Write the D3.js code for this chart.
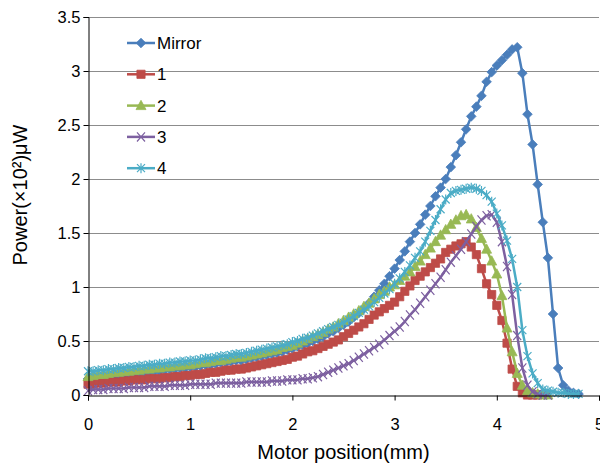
<!DOCTYPE html>
<html>
<head>
<meta charset="utf-8">
<script src="https://cdn.jsdelivr.net/npm/d3@7"></script>
<style>
body { margin: 0; background: #fff; }
svg { display: block; font-family: "Liberation Sans", Arial, sans-serif; }
</style>
</head>
<body>
<svg id="chart" width="600" height="468"></svg>
<script>
// motor position step between readings (mm)
const step = 0.05;

const mirror = [
    0.15,0.15,0.16,0.17,0.17,0.18,0.18,0.19,0.19,0.20,
    0.20,0.21,0.21,0.22,0.22,0.23,0.24,0.24,0.25,0.25,
    0.26,0.26,0.27,0.28,0.28,0.29,0.30,0.30,0.31,0.32,
    0.32,0.33,0.34,0.35,0.36,0.37,0.38,0.39,0.40,0.42,
    0.43,0.45,0.46,0.48,0.50,0.52,0.54,0.57,0.59,0.62,
    0.65,0.68,0.72,0.76,0.80,0.85,0.91,0.97,1.03,1.10,
    1.17,1.25,1.33,1.42,1.50,1.58,1.67,1.75,1.84,1.92,
    2.00,2.11,2.22,2.34,2.46,2.58,2.67,2.77,2.90,2.99,
    3.05,3.10,3.15,3.20,3.22,2.98,2.60,2.32,1.95,1.60,
    1.27,0.75,0.25,0.09,0.04,0.02,0.01
];
const s1 = [
    0.10,0.10,0.11,0.11,0.12,0.12,0.12,0.13,0.13,0.14,
    0.14,0.14,0.15,0.15,0.15,0.16,0.16,0.17,0.17,0.18,
    0.18,0.19,0.19,0.20,0.21,0.21,0.22,0.23,0.23,0.24,
    0.24,0.25,0.26,0.27,0.28,0.29,0.30,0.31,0.32,0.33,
    0.35,0.36,0.38,0.40,0.41,0.43,0.45,0.47,0.49,0.51,
    0.54,0.57,0.60,0.63,0.66,0.70,0.74,0.77,0.80,0.83,
    0.86,0.91,0.96,1.01,1.06,1.10,1.14,1.18,1.22,1.26,
    1.32,1.35,1.38,1.40,1.42,1.37,1.30,1.17,1.03,0.93,
    0.83,0.69,0.48,0.24,0.08,0.02,0.00,0.00,0.00
];
const s2 = [
    0.17,0.18,0.19,0.19,0.20,0.21,0.21,0.22,0.22,0.23,
    0.23,0.24,0.24,0.25,0.25,0.26,0.26,0.27,0.27,0.28,
    0.28,0.29,0.30,0.30,0.31,0.32,0.32,0.33,0.34,0.35,
    0.35,0.36,0.37,0.38,0.39,0.40,0.41,0.42,0.44,0.45,
    0.46,0.48,0.50,0.52,0.54,0.56,0.58,0.61,0.63,0.66,
    0.69,0.72,0.75,0.78,0.82,0.85,0.89,0.93,0.96,1.00,
    1.02,1.06,1.10,1.14,1.19,1.24,1.30,1.36,1.42,1.48,
    1.53,1.58,1.62,1.66,1.67,1.63,1.55,1.45,1.35,1.24,
    1.12,0.92,0.62,0.40,0.20,0.09,0.04,0.02,0.01,0.00,
    0.00
];
const s3 = [
    0.04,0.05,0.05,0.05,0.06,0.06,0.06,0.06,0.07,0.07,
    0.07,0.07,0.08,0.08,0.08,0.08,0.09,0.09,0.09,0.09,
    0.10,0.10,0.10,0.10,0.10,0.11,0.11,0.11,0.11,0.11,
    0.11,0.12,0.12,0.12,0.12,0.12,0.13,0.13,0.13,0.14,
    0.14,0.14,0.15,0.15,0.16,0.17,0.19,0.21,0.23,0.25,
    0.27,0.29,0.32,0.35,0.38,0.41,0.44,0.47,0.51,0.55,
    0.59,0.63,0.68,0.74,0.79,0.85,0.91,0.97,1.03,1.09,
    1.16,1.23,1.29,1.35,1.42,1.49,1.56,1.62,1.66,1.67,
    1.60,1.42,1.19,0.93,0.55,0.25,0.09,0.03,0.01,0.00,
    0.00
];
const s4 = [
    0.22,0.22,0.23,0.23,0.24,0.24,0.25,0.25,0.26,0.26,
    0.27,0.27,0.28,0.28,0.29,0.29,0.30,0.30,0.31,0.31,
    0.32,0.32,0.33,0.34,0.34,0.35,0.36,0.36,0.37,0.38,
    0.38,0.39,0.40,0.41,0.42,0.43,0.44,0.45,0.46,0.47,
    0.49,0.50,0.52,0.53,0.55,0.57,0.59,0.61,0.63,0.65,
    0.67,0.70,0.73,0.76,0.79,0.82,0.86,0.90,0.94,0.98,
    1.03,1.08,1.14,1.20,1.27,1.33,1.42,1.52,1.62,1.72,
    1.81,1.87,1.89,1.90,1.91,1.92,1.91,1.89,1.85,1.79,
    1.68,1.57,1.43,1.26,1.00,0.60,0.36,0.20,0.11,0.05,
    0.04,0.03,0.02,0.02,0.01,0.01,0.01
];

const seriesNames = ["Mirror", "1", "2", "3", "4"];
const seriesValues = [mirror, s1, s2, s3, s4];
const colors = ["#4a7ebb", "#be4b48", "#98b954", "#7d60a0", "#4bacc6"];
const markerTypes = ["diamond", "square", "triangle", "cross", "star"];
const xTicks = [0, 1, 2, 3, 4, 5];
const yTicks = [0, 0.5, 1, 1.5, 2, 2.5, 3, 3.5];

const svg = d3.select("#chart");
const plotL = 88, plotR = 599, plotT = 17, plotB = 395;

const x = d3.scaleLinear().domain([0, 5]).range([plotL, plotR]);
const y = d3.scaleLinear().domain([0, 3.5]).range([plotB, plotT]);

// gridlines
svg.append("g")
    .selectAll("line")
    .data(yTicks.filter(d => d > 0))
    .enter()
    .append("line")
    .attr("x1", plotL).attr("x2", plotR)
    .attr("y1", d => Math.round(y(d)) + 0.5)
    .attr("y2", d => Math.round(y(d)) + 0.5)
    .attr("stroke", "#8c8c8c")
    .attr("stroke-width", 1);

function markerPath(type) {
    switch (type) {
        case "diamond":
            return "M0,-4.8L4.8,0L0,4.8L-4.8,0Z";
        case "square":
            return "M-4.1,-4.1H4.1V4.1H-4.1Z";
        case "triangle":
            return "M0,-5.3L5,4H-5Z";
        case "cross":
            return "M-4,-4.6L4,4.6M-4,4.6L4,-4.6";
        default:
            return "M-4,-4L4,4M-4,4L4,-4M0,-5V5";
    }
}
const filled = t => t == "diamond" || t == "square" || t == "triangle";

const line = d3.line()
    .x((d, i) => x(i * step))
    .y(d => y(d));

seriesValues.forEach((vals, k) => {
    const g = svg.append("g");
    const col = colors[k];
    const t = markerTypes[k];
    g.append("path")
        .datum(vals)
        .attr("d", line)
        .attr("fill", "none")
        .attr("stroke", col)
        .attr("stroke-width", 2.5)
        .attr("stroke-linejoin", "round");
    g.selectAll(".m")
        .data(vals)
        .enter()
        .append("path")
        .classed("m", true)
        .attr("transform", (d, i) => `translate(${x(i * step)},${y(d)})`)
        .attr("d", markerPath(t))
        .attr("fill", filled(t) ? col : "none")
        .attr("stroke", col)
        .attr("stroke-width", filled(t) ? 0.8 : 1.2);
});

// axes
const yAxis = svg.append("g")
    .attr("transform", `translate(${plotL + 0.5},0)`)
    .call(d3.axisLeft(y).tickValues(yTicks).tickSize(5).tickPadding(3).tickFormat(d3.format("")));
const xAxis = svg.append("g")
    .attr("transform", `translate(0,${plotB + 0.5})`)
    .call(d3.axisBottom(x).tickValues(xTicks).tickSize(5).tickPadding(18).tickFormat(d3.format("")));

[yAxis, xAxis].forEach(a => {
    a.attr("font-family", null).attr("font-size", null);
    a.selectAll("path, line").attr("stroke", "#000");
    a.selectAll("text").attr("fill", "#000").style("font-size", "16.5px");
});

// axis titles
svg.append("text")
    .attr("transform", "translate(27,195) rotate(-90)")
    .attr("text-anchor", "middle")
    .style("font-size", "20px")
    .text("Power(×10²)μW");
svg.append("text")
    .attr("x", (plotL + plotR) / 2)
    .attr("y", 459)
    .attr("text-anchor", "middle")
    .style("font-size", "20px")
    .text("Motor position(mm)");

// legend
const legend = svg.append("g");
seriesNames.forEach((name, k) => {
    const ly = 43 + k * 31.3;
    const g = legend.append("g").attr("transform", `translate(0,${ly})`);
    g.append("line")
        .attr("x1", 127).attr("x2", 155)
        .attr("stroke", colors[k]).attr("stroke-width", 2.5);
    g.append("path")
        .attr("transform", "translate(141,0)")
        .attr("d", markerPath(markerTypes[k]))
        .attr("fill", filled(markerTypes[k]) ? colors[k] : "none")
        .attr("stroke", colors[k])
        .attr("stroke-width", filled(markerTypes[k]) ? 0.8 : 1.2);
    g.append("text")
        .attr("x", 157).attr("dy", "0.36em")
        .style("font-size", "17px")
        .text(name);
});
</script>
</body>
</html>
